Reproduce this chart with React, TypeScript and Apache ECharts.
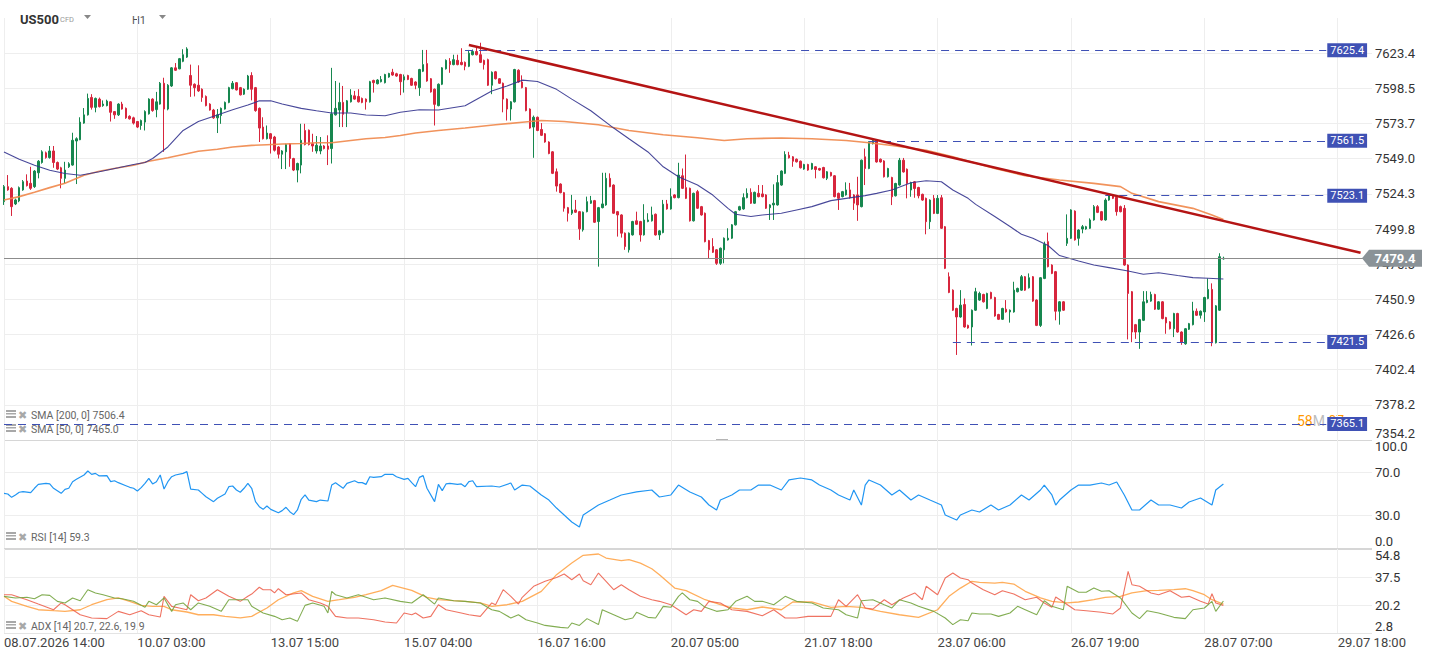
import { useEffect, useRef } from 'react';
import * as echarts from 'echarts';

// ---------- axis tick labels ----------
const xTickLabels = ['08.07.2026 14:00', '10.07 03:00', '13.07 15:00', '15.07 04:00', '16.07 16:00', '20.07 05:00', '21.07 18:00', '23.07 06:00', '26.07 19:00', '28.07 07:00', '29.07 18:00'];
const priceTickLabels = ['7354.2', '7378.2', '7402.4', '7426.6', '7450.9', '7475.3', '7499.8', '7524.3', '7549.0', '7573.7', '7598.5', '7623.4'];
const rsiTickLabels: Record<number, string> = { 0: '0.0', 30: '30.0', 70: '70.0', 100: '100.0' };
const adxTickLabels = ['2.8', '20.2', '37.5', '54.8'];

// ---------- candles (H1) ----------
const opens = [
  7518.9, 7529.4, 7528.2, 7517.3, 7519.4, 7527.1, 7533.3, 7531.7, 7529.4, 7539.1,
  7546.3, 7553.1, 7549.8, 7554.4, 7546.3, 7542.6, 7535.2, 7543.3, 7544.5, 7561.4,
  7562.3, 7574.0, 7579.8, 7592.1, 7585.1, 7590.9, 7586.3, 7586.3, 7589.0, 7582.1,
  7579.8, 7587.4, 7584.4, 7578.8, 7577.7, 7575.1, 7572.3, 7574.7, 7580.5, 7590.9,
  7583.5, 7587.4, 7602.1, 7583.9, 7600.2, 7613.0, 7612.3, 7617.6, 7620.6, 7607.6,
  7601.4, 7600.7, 7597.9, 7592.8, 7587.4, 7583.2, 7577.7, 7579.3, 7583.9, 7588.6,
  7598.3, 7602.5, 7599.0, 7594.4, 7597.9, 7607.6, 7599.0, 7584.4, 7571.2, 7563.0,
  7566.5, 7564.2, 7557.2, 7552.1, 7553.8, 7559.5, 7549.1, 7541.0, 7544.5, 7568.8,
  7569.0, 7559.5, 7554.4, 7554.4, 7557.9, 7557.9, 7556.1, 7579.8, 7583.2, 7588.6,
  7581.6, 7589.0, 7593.2, 7592.8, 7591.4, 7590.9, 7589.0, 7604.1, 7601.8, 7603.2,
  7602.5, 7606.5, 7609.9, 7608.8, 7608.3, 7604.4, 7607.6, 7605.5, 7603.0, 7599.0,
  7610.6, 7616.0, 7605.3, 7597.9, 7586.3, 7601.4, 7612.3, 7617.6, 7615.3, 7618.3,
  7616.9, 7616.9, 7614.1, 7622.3, 7624.6, 7622.3, 7618.3, 7618.8, 7600.7, 7610.2,
  7605.3, 7602.1, 7590.9, 7583.9, 7589.0, 7611.3, 7603.0, 7599.0, 7583.9, 7571.2,
  7578.1, 7569.5, 7566.5, 7560.7, 7553.8, 7539.8, 7531.2, 7525.2, 7514.7, 7510.8,
  7513.1, 7511.9, 7499.2, 7511.9, 7517.8, 7519.6, 7505.0, 7514.7, 7516.6, 7535.2,
  7530.5, 7511.9, 7509.6, 7496.9, 7485.3, 7495.7, 7505.5, 7505.0, 7495.7, 7505.0,
  7505.5, 7510.1, 7495.7, 7497.3, 7517.3, 7513.8, 7523.6, 7521.7, 7537.0, 7528.7,
  7528.2, 7505.5, 7525.9, 7515.4, 7510.8, 7491.7, 7487.6, 7485.3, 7475.9, 7485.3,
  7492.2, 7493.4, 7502.7, 7513.1, 7513.8, 7521.7, 7525.4, 7517.8, 7524.7, 7524.3,
  7523.6, 7514.7, 7516.6, 7516.6, 7530.5, 7538.7, 7551.4, 7550.3, 7548.6, 7547.2,
  7541.7, 7544.9, 7541.7, 7543.3, 7542.1, 7542.8, 7535.2, 7539.3, 7537.0, 7524.7,
  7522.4, 7523.6, 7527.1, 7523.6, 7523.6, 7515.4, 7550.3, 7542.1, 7559.5, 7561.8,
  7548.6, 7547.4, 7536.3, 7535.8, 7523.0, 7530.5, 7547.9, 7541.6, 7527.0, 7532.8,
  7528.8, 7524.0, 7521.2, 7504.9, 7521.2, 7510.7, 7521.6, 7501.4, 7466.6, 7457.3,
  7444.6, 7438.7, 7447.3, 7432.9, 7431.8, 7443.4, 7450.4, 7454.3, 7444.6, 7455.7,
  7452.2, 7440.4, 7437.1, 7444.1, 7442.2, 7442.2, 7456.2, 7457.3, 7466.6, 7458.9,
  7466.6, 7450.4, 7432.9, 7465.4, 7491.0, 7474.7, 7470.1, 7442.7, 7449.2, 7489.8,
  7493.3, 7512.3, 7493.3, 7499.8, 7499.8, 7500.3, 7506.1, 7515.4, 7511.9, 7506.1,
  7520.0, 7523.5, 7521.9, 7515.4, 7514.2, 7474.7, 7456.2, 7433.4, 7428.3, 7436.4,
  7448.7, 7449.7, 7454.3, 7444.1, 7449.2, 7438.3, 7435.3, 7430.6, 7441.1, 7428.3,
  7420.2, 7430.2, 7433.4, 7442.7, 7439.9, 7442.2, 7451.5, 7457.8, 7420.9, 7443.4,
  7479.0,
];
const highs = [
  7530.5, 7537.5, 7529.0, 7521.0, 7529.5, 7534.0, 7538.0, 7543.3, 7541.0, 7548.0,
  7554.9, 7554.0, 7557.9, 7557.9, 7547.0, 7543.3, 7546.8, 7546.5, 7567.2, 7564.0,
  7578.1, 7584.6, 7594.8, 7594.4, 7592.0, 7592.0, 7590.0, 7590.5, 7589.5, 7582.5,
  7588.0, 7589.0, 7585.0, 7579.5, 7578.5, 7575.5, 7576.5, 7583.0, 7591.5, 7591.5,
  7596.0, 7603.0, 7606.0, 7601.5, 7613.5, 7616.4, 7620.0, 7626.2, 7627.6, 7615.3,
  7602.0, 7614.8, 7598.5, 7593.5, 7588.0, 7584.0, 7583.9, 7585.0, 7589.2, 7599.6,
  7603.7, 7603.0, 7599.5, 7598.5, 7608.0, 7609.9, 7599.5, 7585.0, 7578.1, 7572.3,
  7567.0, 7565.0, 7557.8, 7555.0, 7559.5, 7560.0, 7549.6, 7546.2, 7573.5, 7573.5,
  7569.5, 7566.5, 7564.9, 7564.2, 7558.5, 7565.4, 7613.0, 7603.7, 7602.5, 7600.2,
  7590.3, 7597.9, 7596.7, 7597.9, 7592.0, 7591.4, 7603.8, 7604.6, 7605.0, 7607.2,
  7608.8, 7609.5, 7612.3, 7609.5, 7608.8, 7608.3, 7608.1, 7606.0, 7603.5, 7612.3,
  7625.7, 7625.7, 7605.8, 7598.4, 7602.0, 7613.5, 7619.0, 7619.9, 7622.3, 7622.3,
  7626.9, 7617.5, 7625.7, 7626.0, 7628.1, 7630.8, 7618.8, 7619.5, 7610.5, 7610.8,
  7605.8, 7602.6, 7591.4, 7589.5, 7612.3, 7612.0, 7607.7, 7599.5, 7584.4, 7579.3,
  7578.6, 7574.0, 7567.0, 7561.2, 7554.3, 7542.1, 7531.7, 7525.7, 7515.2, 7523.6,
  7520.1, 7512.4, 7512.0, 7522.4, 7522.9, 7520.1, 7515.2, 7539.1, 7539.1, 7538.7,
  7531.0, 7512.4, 7510.1, 7497.4, 7497.4, 7505.5, 7511.9, 7505.5, 7517.1, 7510.8,
  7515.4, 7510.6, 7499.0, 7520.1, 7520.1, 7528.2, 7524.1, 7546.1, 7542.1, 7551.9,
  7528.7, 7525.2, 7527.1, 7515.9, 7511.3, 7492.2, 7493.4, 7485.8, 7486.9, 7493.9,
  7500.3, 7503.2, 7512.4, 7516.0, 7524.7, 7528.2, 7528.2, 7525.9, 7530.5, 7530.5,
  7524.1, 7517.1, 7531.0, 7537.5, 7540.8, 7554.2, 7553.8, 7550.8, 7549.1, 7547.7,
  7545.4, 7545.4, 7546.1, 7543.8, 7542.6, 7543.3, 7540.3, 7539.8, 7537.5, 7525.2,
  7526.4, 7532.4, 7532.0, 7524.1, 7536.3, 7548.4, 7556.1, 7561.2, 7562.5, 7562.5,
  7549.1, 7547.9, 7542.6, 7536.3, 7532.1, 7549.5, 7549.5, 7542.1, 7532.8, 7533.3,
  7529.3, 7524.5, 7521.7, 7520.5, 7523.5, 7523.5, 7523.5, 7501.9, 7469.6, 7457.8,
  7445.1, 7457.3, 7451.5, 7433.4, 7443.9, 7458.9, 7456.2, 7454.8, 7455.5, 7456.2,
  7452.7, 7440.9, 7445.1, 7450.4, 7443.9, 7463.1, 7459.0, 7467.8, 7467.1, 7468.9,
  7467.1, 7450.9, 7466.4, 7491.0, 7497.3, 7475.2, 7470.6, 7449.7, 7449.7, 7510.0,
  7513.6, 7512.8, 7499.6, 7502.6, 7502.0, 7507.2, 7516.5, 7516.5, 7512.4, 7521.2,
  7524.7, 7524.0, 7522.4, 7516.1, 7516.5, 7475.2, 7456.7, 7433.9, 7437.4, 7456.6,
  7456.6, 7456.2, 7454.8, 7449.7, 7449.7, 7438.8, 7435.8, 7441.6, 7441.6, 7428.8,
  7431.1, 7434.6, 7449.2, 7444.6, 7443.2, 7452.7, 7465.4, 7462.0, 7446.9, 7482.9,
  7480.5,
];
const lows = [
  7516.6, 7526.5, 7508.9, 7516.5, 7518.5, 7526.5, 7529.5, 7527.1, 7528.5, 7535.2,
  7545.5, 7549.0, 7549.0, 7542.6, 7541.0, 7528.2, 7531.7, 7542.5, 7544.0, 7531.2,
  7562.0, 7573.5, 7579.3, 7583.5, 7581.6, 7585.0, 7585.5, 7585.8, 7575.1, 7577.0,
  7579.0, 7583.5, 7577.0, 7576.5, 7573.0, 7570.5, 7569.3, 7568.8, 7580.0, 7582.0,
  7578.1, 7587.0, 7553.8, 7583.0, 7599.5, 7610.8, 7612.0, 7617.0, 7620.0, 7592.5,
  7592.8, 7596.0, 7589.0, 7585.8, 7582.8, 7577.0, 7567.0, 7573.5, 7583.5, 7588.0,
  7597.8, 7597.0, 7593.5, 7593.8, 7597.5, 7590.0, 7582.0, 7560.7, 7562.5, 7562.5,
  7552.6, 7554.0, 7549.1, 7541.7, 7541.7, 7543.3, 7540.3, 7532.4, 7538.7, 7558.3,
  7558.3, 7553.8, 7552.6, 7552.1, 7555.5, 7544.5, 7545.6, 7579.3, 7571.2, 7571.2,
  7571.2, 7588.5, 7590.4, 7588.5, 7588.0, 7583.5, 7588.5, 7595.5, 7601.3, 7602.7,
  7602.0, 7606.0, 7607.4, 7606.7, 7593.7, 7595.5, 7604.3, 7600.2, 7597.9, 7593.2,
  7610.0, 7603.2, 7595.5, 7572.3, 7585.8, 7600.8, 7611.8, 7609.5, 7614.8, 7614.8,
  7614.8, 7611.3, 7613.5, 7621.8, 7621.8, 7616.4, 7611.8, 7600.2, 7594.4, 7604.8,
  7601.6, 7581.6, 7575.8, 7575.8, 7588.5, 7602.5, 7598.5, 7582.3, 7570.0, 7549.6,
  7568.3, 7564.9, 7560.2, 7552.1, 7538.2, 7525.9, 7524.7, 7511.9, 7505.0, 7509.6,
  7511.0, 7492.2, 7498.0, 7511.4, 7517.3, 7504.0, 7473.6, 7514.2, 7516.0, 7529.0,
  7510.3, 7494.5, 7493.8, 7485.3, 7483.4, 7495.2, 7502.6, 7491.0, 7495.2, 7504.5,
  7505.0, 7495.2, 7492.2, 7496.8, 7513.3, 7513.3, 7521.2, 7521.2, 7527.7, 7520.7,
  7505.0, 7505.0, 7513.8, 7509.1, 7490.5, 7479.4, 7483.1, 7474.8, 7474.8, 7475.9,
  7491.7, 7492.9, 7502.2, 7512.6, 7513.3, 7521.2, 7517.3, 7517.3, 7521.9, 7521.9,
  7513.8, 7506.1, 7506.1, 7516.1, 7530.0, 7538.2, 7549.1, 7543.3, 7546.3, 7542.1,
  7541.2, 7540.5, 7541.2, 7535.2, 7540.5, 7535.1, 7534.0, 7536.5, 7521.9, 7513.1,
  7521.9, 7523.1, 7521.0, 7513.1, 7505.5, 7514.9, 7530.5, 7541.6, 7559.0, 7546.2,
  7546.2, 7535.8, 7535.8, 7516.5, 7522.5, 7530.0, 7539.2, 7521.2, 7522.3, 7521.6,
  7521.2, 7519.5, 7496.1, 7499.8, 7510.2, 7510.2, 7499.8, 7471.9, 7455.2, 7442.9,
  7412.5, 7438.2, 7431.3, 7430.6, 7419.0, 7442.9, 7449.9, 7448.7, 7444.1, 7451.0,
  7438.9, 7436.6, 7436.6, 7441.7, 7434.8, 7441.7, 7455.7, 7456.8, 7456.8, 7458.4,
  7449.2, 7432.4, 7431.8, 7464.9, 7473.1, 7468.4, 7436.4, 7433.4, 7442.9, 7488.0,
  7492.8, 7491.7, 7488.2, 7496.8, 7499.3, 7499.8, 7505.6, 7510.9, 7505.6, 7505.6,
  7519.5, 7520.7, 7509.1, 7511.4, 7474.2, 7423.2, 7421.3, 7423.6, 7416.7, 7435.9,
  7448.2, 7449.2, 7443.6, 7443.6, 7437.1, 7427.1, 7430.1, 7424.8, 7427.8, 7419.5,
  7419.5, 7429.7, 7432.9, 7439.4, 7437.6, 7435.3, 7451.0, 7418.5, 7420.4, 7442.9,
  7478.5,
];
const closes = [
  7529.4, 7527.1, 7515.4, 7520.1, 7528.7, 7532.9, 7530.1, 7528.2, 7540.3, 7547.2,
  7553.8, 7549.8, 7554.4, 7546.3, 7541.7, 7535.2, 7541.0, 7545.4, 7561.9, 7563.0,
  7574.7, 7579.8, 7591.4, 7585.1, 7591.4, 7585.6, 7587.4, 7589.5, 7581.6, 7579.8,
  7587.4, 7583.9, 7577.7, 7577.0, 7574.0, 7571.2, 7575.8, 7582.1, 7590.9, 7582.8,
  7589.0, 7602.1, 7583.9, 7600.7, 7613.0, 7611.3, 7619.5, 7622.3, 7626.4, 7600.7,
  7599.0, 7596.7, 7592.1, 7586.3, 7583.2, 7577.7, 7579.8, 7584.4, 7588.6, 7599.0,
  7602.1, 7597.4, 7593.9, 7597.9, 7607.2, 7597.9, 7582.8, 7570.5, 7563.0, 7567.0,
  7563.0, 7554.9, 7552.1, 7554.4, 7558.9, 7549.1, 7541.0, 7545.6, 7561.9, 7558.9,
  7558.9, 7557.9, 7558.4, 7557.9, 7556.1, 7555.6, 7580.5, 7584.4, 7588.6, 7580.2,
  7589.7, 7593.7, 7590.9, 7589.0, 7588.6, 7589.0, 7603.2, 7602.5, 7604.4, 7604.8,
  7608.3, 7609.0, 7607.9, 7607.2, 7603.2, 7606.7, 7604.8, 7600.7, 7600.7, 7611.8,
  7615.3, 7603.7, 7596.0, 7587.2, 7601.4, 7613.0, 7618.3, 7615.3, 7618.8, 7615.3,
  7615.3, 7614.1, 7623.4, 7624.6, 7622.3, 7616.9, 7615.3, 7600.7, 7609.9, 7605.3,
  7602.1, 7590.9, 7583.9, 7589.0, 7611.8, 7603.0, 7599.0, 7582.8, 7570.5, 7578.1,
  7568.8, 7565.4, 7560.7, 7552.6, 7538.7, 7529.8, 7525.2, 7514.3, 7510.8, 7513.1,
  7511.5, 7499.9, 7511.5, 7518.9, 7519.6, 7504.5, 7514.7, 7517.3, 7535.2, 7529.4,
  7510.8, 7509.6, 7496.9, 7487.6, 7496.9, 7505.0, 7503.1, 7495.7, 7506.1, 7506.1,
  7509.6, 7495.7, 7498.5, 7517.1, 7513.8, 7522.4, 7521.7, 7537.5, 7528.2, 7521.2,
  7505.5, 7524.7, 7514.3, 7509.6, 7491.0, 7485.3, 7483.6, 7475.9, 7486.4, 7493.4,
  7493.4, 7502.7, 7511.9, 7515.4, 7521.7, 7524.7, 7517.8, 7525.4, 7522.4, 7522.4,
  7514.3, 7516.6, 7517.8, 7532.2, 7540.3, 7551.9, 7549.6, 7547.2, 7546.8, 7542.6,
  7544.9, 7541.0, 7545.6, 7541.4, 7541.0, 7535.6, 7539.8, 7537.0, 7522.4, 7521.2,
  7525.9, 7527.1, 7521.7, 7517.8, 7516.6, 7547.9, 7542.1, 7560.7, 7561.8, 7546.7,
  7546.7, 7536.3, 7542.1, 7522.3, 7531.6, 7547.9, 7539.7, 7531.6, 7532.3, 7528.1,
  7523.0, 7520.0, 7504.9, 7520.0, 7510.7, 7521.2, 7500.3, 7472.4, 7455.7, 7443.4,
  7438.7, 7446.9, 7431.8, 7431.1, 7443.4, 7456.2, 7455.0, 7449.2, 7455.0, 7451.5,
  7439.4, 7437.1, 7444.6, 7442.2, 7443.4, 7457.3, 7458.5, 7466.6, 7457.3, 7465.9,
  7449.7, 7432.9, 7465.9, 7489.1, 7473.6, 7468.9, 7442.7, 7449.2, 7443.4, 7493.3,
  7513.1, 7492.2, 7499.1, 7501.4, 7501.4, 7506.1, 7515.4, 7511.4, 7506.1, 7520.0,
  7523.5, 7521.2, 7511.9, 7511.9, 7474.7, 7455.0, 7428.3, 7428.3, 7436.9, 7449.2,
  7450.4, 7454.3, 7444.1, 7449.2, 7437.6, 7434.6, 7430.6, 7441.1, 7428.3, 7421.3,
  7430.6, 7434.1, 7442.9, 7439.9, 7442.7, 7452.2, 7457.8, 7420.9, 7446.4, 7480.5,
  7479.4,
];

// ---------- moving averages [candle index, value] ----------
const sma50 = [
  [0, 7553.7], [4, 7548.6], [8, 7544.4], [12, 7540.9], [16, 7538.6], [20, 7537.4], [25, 7539.8], [30, 7542.6], [34, 7544.9], [37, 7546.3],
  [39, 7549.1], [43, 7557.2], [47, 7568.8], [51, 7575.1], [56, 7579.7], [60, 7583.4], [64, 7586.7], [67, 7589.7], [70, 7589.7], [73, 7587.4],
  [78, 7584.4], [82, 7582.7], [86, 7581.1], [91, 7581.1], [95, 7579.7], [100, 7579.2], [104, 7581.6], [109, 7583.4], [114, 7583.2], [121, 7586.2],
  [128, 7596.7], [132, 7600.1], [136, 7604.3], [140, 7603.4], [145, 7597.8], [149, 7590.9], [154, 7582.7], [160, 7570.5], [164, 7563.0], [169, 7553.7],
  [173, 7543.3], [177, 7536.3], [182, 7530.5], [186, 7523.5], [190, 7514.2], [192, 7510.1], [196, 7508.5], [199, 7509.6], [204, 7510.8], [208, 7513.1],
  [212, 7515.4], [217, 7519.6], [221, 7521.2], [226, 7523.1], [229, 7524.7], [233, 7527.0], [238, 7532.1], [242, 7533.5], [246, 7532.8], [249, 7527.0],
  [253, 7521.2], [255, 7517.0], [260, 7508.5], [264, 7501.5], [267, 7496.1], [270, 7493.3], [274, 7488.3], [277, 7481.3], [282, 7477.5], [286, 7474.7],
  [290, 7472.9], [295, 7470.6], [299, 7468.3], [303, 7469.4], [308, 7467.4], [312, 7466.0], [316, 7465.5], [320, 7465.0],
];
const sma200 = [
  [0, 7520.0], [4, 7522.4], [8, 7525.4], [12, 7528.7], [16, 7531.7], [21, 7537.4], [25, 7540.2], [30, 7542.6], [34, 7544.4], [38, 7547.2],
  [43, 7549.6], [47, 7551.9], [51, 7554.2], [56, 7555.6], [60, 7557.2], [65, 7558.3], [69, 7558.8], [73, 7559.3], [78, 7559.7], [82, 7560.2],
  [86, 7560.2], [91, 7561.8], [95, 7563.0], [100, 7563.9], [104, 7565.3], [108, 7567.0], [114, 7568.8], [121, 7570.5], [129, 7572.8], [136, 7574.6],
  [141, 7575.8], [147, 7575.1], [156, 7572.8], [164, 7568.8], [173, 7565.8], [182, 7563.7], [189, 7561.8], [195, 7563.0], [204, 7563.5], [212, 7563.0],
  [221, 7561.8], [227, 7560.2], [233, 7558.3], [242, 7554.9], [249, 7550.3], [260, 7542.1], [268, 7537.0], [277, 7534.0], [286, 7531.7], [293, 7529.4],
  [296, 7524.7], [303, 7518.9], [312, 7514.2], [317, 7509.6], [320, 7506.4],
];

// ---------- RSI [14] ----------
const rsi = [
  [0, 50.6], [1, 50.0], [2, 46.9], [3, 49.1], [4, 51.6], [5, 52.2], [7, 51.2], [8, 55.3], [9, 58.9], [11, 59.9], [12, 59.3], [13, 55.3], [15, 50.6], [16, 54.3],
  [17, 55.3], [18, 61.4], [19, 63.6], [21, 67.6], [22, 71.3], [23, 68.2], [24, 69.1], [25, 66.7], [27, 67.0], [28, 61.4], [29, 62.3], [30, 60.5], [32, 57.7],
  [33, 56.2], [34, 55.3], [35, 52.8], [36, 55.9], [37, 59.9], [38, 64.5], [39, 59.3], [40, 61.4], [41, 67.6], [42, 54.6], [43, 61.4], [44, 66.0], [45, 67.6],
  [47, 69.1], [48, 70.7], [49, 54.6], [51, 53.7], [52, 50.6], [53, 47.5], [55, 42.9], [56, 46.0], [58, 50.0], [59, 56.8], [60, 57.4], [61, 53.7], [62, 51.6],
  [63, 55.3], [64, 59.9], [65, 55.3], [66, 42.9], [67, 38.3], [68, 35.8], [69, 38.9], [70, 35.8], [72, 32.7], [73, 34.6], [74, 37.7], [75, 33.6], [76, 30.9],
  [77, 35.2], [78, 45.1], [79, 49.1], [80, 44.4], [82, 42.9], [83, 44.4], [85, 43.5], [86, 58.3], [87, 60.5], [89, 55.3], [90, 59.9], [92, 62.3], [93, 60.5],
  [94, 60.5], [95, 58.9], [96, 66.0], [97, 65.4], [99, 66.0], [100, 68.2], [102, 68.2], [103, 66.0], [105, 63.6], [106, 64.5], [107, 60.5], [108, 56.8],
  [109, 65.4], [110, 67.0], [111, 55.3], [113, 42.9], [114, 58.9], [115, 53.1], [116, 59.3], [117, 59.9], [119, 58.9], [120, 59.3], [121, 56.8], [122, 61.4],
  [123, 62.3], [124, 56.8], [128, 57.4], [130, 56.5], [133, 60.2], [134, 53.7], [136, 58.3], [138, 57.4], [141, 49.1], [143, 44.4], [145, 37.0], [147, 30.6],
  [149, 24.1], [151, 19.4], [152, 30.6], [154, 35.2], [156, 39.8], [159, 44.4], [162, 49.1], [166, 51.9], [170, 53.7], [172, 47.2], [175, 49.1], [177, 58.3],
  [180, 51.9], [183, 47.2], [185, 39.8], [187, 35.2], [188, 44.4], [191, 49.1], [193, 53.7], [196, 53.7], [198, 58.3], [201, 58.3], [204, 53.7], [206, 63.0],
  [209, 64.8], [212, 63.0], [214, 58.3], [217, 53.7], [219, 49.1], [222, 44.4], [223, 53.7], [225, 39.8], [226, 58.3], [227, 63.0], [230, 58.3], [233, 49.1],
  [235, 53.7], [238, 44.4], [240, 49.1], [243, 44.4], [246, 39.8], [247, 30.6], [250, 25.9], [251, 30.6], [254, 35.2], [256, 33.3], [259, 39.8], [261, 35.2],
  [264, 39.8], [267, 49.1], [269, 44.4], [272, 53.7], [273, 58.3], [275, 49.1], [276, 39.8], [277, 44.4], [280, 53.7], [282, 58.3], [285, 58.3], [288, 60.2],
  [290, 58.3], [292, 61.1], [294, 49.1], [296, 35.2], [298, 35.2], [301, 44.4], [303, 39.8], [306, 39.8], [309, 37.0], [311, 42.6], [314, 46.3], [317, 39.8],
  [318, 53.7], [320, 59.3],
];

// ---------- ADX [14] ----------
const adx = [
  [0, 25.5], [2, 22.4], [6, 19.3], [9, 17.2], [13, 16.6], [16, 16.2], [20, 17.2], [23, 20.3], [27, 23.4], [30, 24.5], [33, 22.4], [36, 19.9], [39, 19.3],
  [42, 19.3], [44, 17.2], [48, 15.8], [51, 14.1], [55, 14.1], [58, 13.1], [62, 12.1], [65, 13.1], [69, 18.3], [72, 23.4], [76, 27.6], [78, 29.0], [81, 25.5],
  [85, 22.4], [88, 23.4], [92, 24.9], [95, 26.5], [99, 29.0], [102, 32.3], [104, 31.1], [107, 29.2], [111, 24.9], [114, 23.4], [118, 22.8], [121, 22.4],
  [125, 21.4], [128, 19.3], [132, 20.3], [136, 22.4], [141, 28.6], [145, 38.9], [149, 46.1], [152, 50.9], [156, 51.7], [158, 49.2], [162, 47.6], [164, 48.2],
  [167, 46.1], [170, 42.6], [172, 38.9], [176, 30.6], [179, 29.0], [184, 23.4], [188, 20.3], [191, 18.3], [195, 17.2], [199, 18.9], [204, 17.2], [207, 22.0],
  [212, 22.0], [217, 18.7], [221, 19.3], [225, 18.7], [230, 16.2], [235, 14.1], [240, 12.5], [245, 17.2], [248, 25.5], [251, 30.6], [254, 34.8], [256, 34.1],
  [260, 33.7], [262, 34.1], [265, 33.1], [268, 28.6], [272, 24.5], [275, 22.4], [279, 21.4], [282, 22.0], [286, 23.4], [289, 24.9], [293, 25.5], [296, 27.6],
  [300, 29.0], [303, 29.2], [307, 29.6], [310, 30.2], [312, 29.0], [315, 26.5], [317, 23.4], [320, 20.7],
];
const minusDI = [
  [0, 26.5], [2, 26.5], [6, 23.4], [9, 20.7], [13, 17.2], [15, 21.4], [16, 20.3], [20, 14.1], [23, 12.1], [27, 11.7], [30, 16.2], [33, 14.1], [36, 16.6],
  [38, 14.1], [41, 12.7], [42, 25.5], [44, 19.3], [46, 18.3], [48, 17.2], [49, 26.5], [51, 22.8], [53, 24.5], [56, 29.6], [59, 25.5], [62, 22.4], [64, 25.5],
  [65, 26.9], [67, 31.1], [68, 29.6], [70, 29.6], [71, 27.6], [72, 30.2], [74, 26.5], [78, 27.6], [80, 23.4], [83, 21.4], [85, 19.3], [87, 13.1], [90, 12.1],
  [93, 12.1], [97, 11.0], [100, 9.6], [103, 9.0], [105, 15.2], [107, 14.1], [108, 15.2], [110, 12.1], [112, 13.1], [114, 20.3], [116, 17.2], [120, 15.2],
  [122, 14.1], [125, 13.1], [128, 21.4], [129, 20.3], [131, 29.6], [133, 25.5], [135, 20.7], [136, 24.9], [139, 31.7], [142, 34.8], [145, 37.2], [147, 39.3],
  [149, 35.8], [151, 39.3], [152, 35.2], [154, 32.7], [156, 39.9], [158, 34.8], [160, 29.6], [162, 32.7], [164, 29.6], [167, 25.5], [170, 23.4], [172, 22.4],
  [175, 20.3], [177, 17.2], [179, 14.1], [181, 17.2], [183, 16.2], [185, 22.4], [188, 21.4], [191, 17.2], [195, 16.2], [199, 13.5], [202, 17.2], [205, 12.1],
  [208, 12.1], [211, 13.1], [214, 13.1], [217, 13.1], [219, 23.4], [221, 19.3], [224, 26.5], [226, 18.3], [228, 17.6], [231, 23.4], [233, 20.3], [236, 24.5],
  [239, 27.6], [241, 23.4], [242, 31.7], [245, 26.5], [247, 36.8], [249, 39.9], [251, 36.8], [253, 35.8], [254, 33.7], [257, 29.6], [260, 26.5], [262, 29.0],
  [265, 26.9], [268, 23.4], [271, 24.9], [273, 21.4], [275, 18.7], [276, 25.1], [278, 22.0], [281, 17.2], [284, 16.6], [288, 15.6], [291, 14.6], [293, 18.3],
  [295, 41.0], [296, 32.7], [298, 31.7], [301, 27.6], [303, 26.5], [306, 29.0], [309, 24.9], [311, 25.5], [314, 22.4], [316, 20.7], [317, 27.1], [318, 21.4],
  [320, 19.9],
];
const plusDI = [
  [0, 25.5], [3, 24.5], [6, 24.9], [8, 24.0], [10, 26.5], [12, 26.1], [14, 22.4], [16, 21.4], [18, 24.5], [20, 22.8], [22, 29.6], [24, 27.6], [26, 26.5],
  [29, 24.5], [31, 24.0], [34, 22.4], [37, 18.7], [38, 22.4], [40, 20.3], [42, 24.5], [44, 16.2], [45, 20.3], [47, 21.4], [49, 17.2], [51, 21.4], [54, 19.3],
  [57, 16.2], [59, 23.4], [64, 23.4], [65, 19.3], [68, 15.2], [71, 13.1], [73, 11.0], [75, 12.1], [77, 10.0], [79, 19.9], [81, 21.4], [84, 19.3], [85, 15.2],
  [86, 28.6], [87, 26.5], [90, 24.5], [93, 26.5], [97, 23.4], [100, 24.5], [104, 22.4], [107, 21.4], [110, 26.5], [113, 20.7], [114, 24.5], [118, 22.8],
  [121, 22.4], [125, 21.4], [128, 17.2], [130, 16.2], [133, 12.1], [135, 14.1], [137, 11.0], [140, 9.0], [142, 7.5], [146, 6.3], [148, 5.9], [149, 9.0],
  [151, 7.5], [153, 11.7], [156, 8.0], [157, 17.2], [160, 14.1], [163, 11.0], [165, 12.1], [166, 15.6], [169, 12.5], [171, 12.1], [173, 19.3], [175, 18.7],
  [177, 25.5], [178, 27.6], [180, 23.4], [182, 22.4], [184, 18.7], [187, 16.2], [190, 17.2], [192, 22.4], [195, 25.5], [197, 22.4], [199, 22.4], [202, 20.3],
  [205, 25.5], [208, 22.4], [212, 21.4], [215, 18.3], [219, 17.2], [221, 14.1], [224, 12.1], [225, 22.8], [228, 23.4], [231, 20.3], [233, 18.3], [235, 23.4],
  [238, 21.4], [240, 19.3], [244, 16.2], [247, 12.1], [249, 8.0], [251, 11.0], [253, 10.4], [254, 15.2], [256, 14.6], [259, 14.6], [261, 13.1], [264, 15.2],
  [266, 19.3], [268, 17.2], [271, 14.1], [273, 22.8], [275, 19.3], [278, 17.2], [279, 31.7], [282, 28.0], [284, 28.0], [286, 30.6], [288, 28.6], [290, 29.0],
  [293, 24.5], [296, 15.2], [298, 11.7], [300, 16.6], [303, 15.2], [307, 12.5], [310, 11.7], [312, 17.2], [315, 18.3], [317, 22.4], [318, 16.2], [320, 22.6],
];

// ---------- drawings ----------
const levelPrices = [7625.4, 7561.5, 7523.1, 7421.5, 7365.1];
const levelStartIndex = [121, 227, 289, 249, 0];
const trendLine = [[122, 7629.2], [356, 7483.2]];
const lastPrice = 7479.4;
const legendSma200 = 'SMA [200, 0] 7506.4';
const legendSma50 = 'SMA [50, 0] 7465.0';
const legendRsi = 'RSI [14] 59.3';
const legendAdx = 'ADX [14] 20.7, 22.6, 19.9';

// ---------- scales ----------
const SLOT_COUNT = 360;
const TICK_EVERY = 35;
const LOG_BASE = 7378.2;
const LOG_STEP = 0.0032693;
const toU = (p: number) => Math.log(p / LOG_BASE) / LOG_STEP;
const ADX_MIN = 2.8;
const ADX_STEP = 52 / 3;
const toA = (v: number) => (v - ADX_MIN) / ADX_STEP;

const FONT = 'Roboto, "Noto Sans", sans-serif';
const UP = '#17874F';
const DOWN = '#D7263D';
const LEVEL = '#3F51B5';

function buildOption() {
  const cats = Array.from({ length: SLOT_COUNT }, (_, i) => String(i));
  const candles = opens.map((o, i) => {
    const c = closes[i];
    const h = Math.max(highs[i], o, c);
    const l = Math.min(lows[i], o, c);
    return [toU(o), toU(c), toU(l), toU(h)];
  });

  const xAxis = [0, 1, 2].map((g) => ({
    type: 'category',
    gridIndex: g,
    data: cats,
    boundaryGap: false,
    axisLine: { show: false },
    axisTick: { show: false },
    axisPointer: { show: false },
    axisLabel: g === 2
      ? {
          show: true,
          interval: TICK_EVERY - 1,
          align: 'left',
          color: '#444',
          fontSize: 13,
          fontFamily: FONT,
          margin: 3,
          formatter: (_v: string, idx: number) => xTickLabels[idx / TICK_EVERY] ?? '',
        }
      : { show: false },
    splitLine: { show: true, interval: TICK_EVERY - 1, lineStyle: { color: '#eeeeee', width: 1 } },
  }));

  const T = 'rgba(0,0,0,0)';
  const yAxis = [
    {
      type: 'value', gridIndex: 0, position: 'right', min: -1, max: 11, interval: 1,
      axisLine: { show: false }, axisTick: { show: false },
      axisLabel: {
        color: '#333', fontSize: 13, fontFamily: FONT, margin: 3, showMaxLabel: false,
        verticalAlignMinLabel: 'bottom',
        formatter: (v: number) => priceTickLabels[Math.round(v) + 1] ?? '',
      },
      splitLine: { show: true, lineStyle: { color: ['#d6d6d6', ...Array(11).fill('#eeeeee'), T], width: 1 } },
    },
    {
      type: 'value', gridIndex: 1, position: 'right', min: 0, max: 100, interval: 10,
      axisLine: { show: false }, axisTick: { show: false },
      axisLabel: {
        color: '#333', fontSize: 13, fontFamily: FONT, margin: 3,
        verticalAlignMinLabel: 'bottom', verticalAlignMaxLabel: 'top',
        formatter: (v: number) => rsiTickLabels[Math.round(v)] ?? '',
      },
      splitLine: { show: true, lineStyle: { color: ['#d6d6d6', T, T, '#eeeeee', T, T, T, '#eeeeee', T, T, '#d6d6d6'], width: 1 } },
    },
    {
      type: 'value', gridIndex: 2, position: 'right', min: 0, max: 3, interval: 1,
      axisLine: { show: false }, axisTick: { show: false },
      axisLabel: {
        color: '#333', fontSize: 13, fontFamily: FONT, margin: 3,
        verticalAlignMinLabel: 'bottom', verticalAlignMaxLabel: 'top',
        formatter: (v: number) => adxTickLabels[Math.round(v)] ?? '',
      },
      splitLine: { show: true, lineStyle: { color: ['#e4e4e4', '#eeeeee', '#eeeeee', '#d6d6d6'], width: 1 } },
    },
  ];

  const lineSeries = (name: string, data: number[][], xi: number, conv: (v: number) => number, color: string, width: number, opacity = 1) => ({
    type: 'line', name, xAxisIndex: xi, yAxisIndex: xi, data: data.map(([i, v]) => [i, conv(v)]),
    showSymbol: false, symbol: 'none', smooth: false, silent: true,
    lineStyle: { color, width, opacity }, z: 3,
  });

  const levelLines = levelPrices.map((p, k) => [
    {
      name: p.toFixed(1),
      coord: [levelStartIndex[k], toU(p)],
      lineStyle: { color: LEVEL, type: [8, 6], width: 1 },
      label: {
        show: true, position: 'end', distance: 1, formatter: '{b}', color: '#fff', backgroundColor: LEVEL,
        padding: [2, 3, 1, 3], fontSize: 11, fontFamily: FONT,
      },
    },
    { coord: [347, toU(p)] },
  ]);
  const priceLine = [
    { name: '', coord: [0, toU(lastPrice)], lineStyle: { color: '#8c8c8c', type: 'solid', width: 1 }, label: { show: false } },
    { coord: [357, toU(lastPrice)] },
  ];

  const series: any[] = [
    {
      type: 'candlestick', name: 'US500', xAxisIndex: 0, yAxisIndex: 0, data: candles, barWidth: 2,
      silent: true,
      itemStyle: { color: UP, color0: DOWN, borderColor: UP, borderColor0: DOWN, borderWidth: 1 },
      z: 2,
    },
    lineSeries('SMA200', sma200, 0, toU, '#F0874A', 1.6, 0.9),
    lineSeries('SMA50', sma50, 0, toU, '#34348F', 1.1, 0.9),
    {
      type: 'line', name: 'trend', xAxisIndex: 0, yAxisIndex: 0,
      data: trendLine.map(([i, v]) => [i, toU(v)]),
      showSymbol: false, symbol: 'none', silent: true,
      lineStyle: { color: '#B41414', width: 2.5 }, z: 5,
      markLine: {
        silent: true, symbol: ['none', 'none'], animation: false,
        data: [priceLine, ...levelLines],
      },
      markPoint: {
        silent: true, animation: false,
        symbol: 'path://M0,8.5 L7,0 L60,0 L60,17 L7,17 Z',
        symbolSize: [60, 17], symbolOffset: [20, 0],
        itemStyle: { color: '#8A9297' },
        label: {
          show: true, position: 'inside', offset: [3, 0], color: '#fff', fontWeight: 'bold',
          fontSize: 13, fontFamily: FONT, formatter: lastPrice.toFixed(1),
        },
        data: [{ coord: [359, toU(lastPrice)] }],
      },
    },
    lineSeries('RSI', rsi, 1, (v) => v, '#2196F3', 1.2),
    lineSeries('ADX', adx, 2, toA, '#FFA040', 1.3, 0.85),
    lineSeries('-DI', minusDI, 2, toA, '#EC5B47', 1.1, 0.85),
    lineSeries('+DI', plusDI, 2, toA, '#74A43F', 1.1, 0.9),
  ];

  const icon = (cy: number) => [
    { type: 'rect', shape: { x: 6, y: cy - 5, width: 10, height: 2 }, style: { fill: '#a8a8a8' } },
    { type: 'rect', shape: { x: 6, y: cy - 2, width: 10, height: 1.5 }, style: { fill: '#a8a8a8' } },
    { type: 'rect', shape: { x: 6, y: cy + 1, width: 10, height: 2 }, style: { fill: '#a8a8a8' } },
    { type: 'text', x: 18, y: cy, style: { text: '✖', fill: '#a8a8a8', fontSize: 11, fontFamily: 'DejaVu Sans', verticalAlign: 'middle' } },
  ];
  const legendText = (cy: number, text: string) => ({
    type: 'text', x: 31, y: cy, style: { text, fill: '#666', fontSize: 10.5, fontFamily: FONT, verticalAlign: 'middle' },
  });

  const graphic = [
    { type: 'text', x: 20, y: 19, style: { text: 'US500', fill: '#333', fontSize: 13, fontWeight: 'bold', fontFamily: FONT, verticalAlign: 'middle' } },
    { type: 'text', x: 60, y: 19.5, style: { text: 'CFD', fill: '#999', fontSize: 7.5, fontFamily: FONT, verticalAlign: 'middle' } },
    { type: 'polygon', shape: { points: [[84, 15], [91, 15], [87.5, 19]] }, style: { fill: '#888' } },
    { type: 'text', x: 132, y: 20, style: { text: 'H1', fill: '#555', fontSize: 11, fontFamily: FONT, verticalAlign: 'middle' } },
    { type: 'polygon', shape: { points: [[159, 15], [166, 15], [162.5, 19]] }, style: { fill: '#888' } },
    ...icon(415), legendText(415, legendSma200),
    ...icon(429), legendText(429, legendSma50),
    ...icon(537), legendText(537, legendRsi),
    ...icon(626), legendText(626, legendAdx),
    { type: 'rect', shape: { x: 716, y: 439, width: 12, height: 2 }, style: { fill: '#b5b5b5' } },
    { type: 'rect', shape: { x: 716, y: 548, width: 12, height: 2 }, style: { fill: '#b5b5b5' } },
    {
      type: 'text', x: 1297, y: 421,
      style: {
        text: '{o|58}{g|M }{o|07}{g|s}', fontSize: 14, fontFamily: FONT, verticalAlign: 'middle',
        rich: { o: { fill: '#FF9800', fontSize: 14, fontFamily: FONT }, g: { fill: '#BDBDBD', fontSize: 14, fontFamily: FONT } },
      },
    },
  ];

  return {
    animation: false,
    backgroundColor: '#ffffff',
    textStyle: { fontFamily: FONT },
    grid: [
      { left: 4, right: 62, top: 18, height: 422 },
      { left: 4, right: 62, top: 440, height: 108 },
      { left: 4, right: 62, top: 549, height: 84 },
    ],
    xAxis,
    yAxis,
    series,
    graphic: { elements: graphic },
  };
}

export default function App() {
  const ref = useRef<HTMLDivElement>(null);
  useEffect(() => {
    const chart = echarts.init(ref.current as HTMLDivElement, null, { renderer: 'svg' });
    chart.setOption(buildOption() as any);
    return () => chart.dispose();
  }, []);
  return <div ref={ref} style={{ position: 'fixed', left: 0, top: 0, width: 1434, height: 659, background: '#fff' }} />;
}
